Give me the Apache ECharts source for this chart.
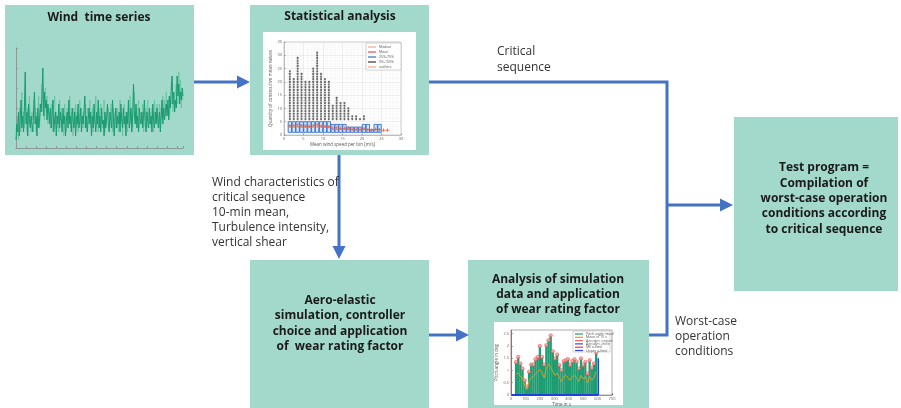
<!DOCTYPE html>
<html><head><meta charset="utf-8">
<script src="https://cdn.jsdelivr.net/npm/echarts@6/dist/echarts.min.js"></script>
<style>html,body{margin:0;padding:0;background:#fff}#c{width:901px;height:408px}</style>
</head><body><div id="c"></div>
<script>
// ---- Wind time series (m/s) ----
const windSeries = [
 2,6,4,9,3,7,12,5,8,4, 10,19,6,9,3,11,7,5,8,6, 4,9,14,6,8,3,10,5,7,11, 9,13,20,8,14,10,12,7,11,9,
 6,10,5,8,12,4,7,9,3,8, 6,11,5,9,7,4,10,6,8,3, 7,9,5,12,6,8,4,10,7,5, 9,3,8,6,11,5,7,10,4,8,
 6,9,13,5,8,4,7,10,6,9, 3,8,5,11,7,4,9,6,12,5, 8,4,10,6,7,3,9,5,8,11, 6,4,9,7,5,12,8,3,7,10,
 5,8,6,9,4,11,7,5,10,6, 8,3,9,6,12,5,7,10,4,8, 16,9,6,11,5,8,4,10,7,6, 9,5,8,12,6,4,9,7,5,10,
 6,8,4,11,7,5,9,6,10,7, 5,9,4,8,12,6,10,7,9,11, 8,12,7,13,10,15,18,11,14,9, 12,10,18,13,16,11,14,12,15,13
];
const windSeriesLight = [
 5,3,8,2,10,6,4,14,7,9, 5,12,8,4,10,6,13,8,4,9, 7,12,6,10,4,9,7,13,5,8, 11,16,9,12,7,15,9,13,6,10,
 8,5,11,7,4,10,13,6,9,5, 8,4,12,7,10,5,8,3,11,7, 4,10,8,6,13,5,9,7,3,10, 6,11,5,9,4,8,12,6,10,5,
 9,5,7,11,4,10,6,8,12,5, 7,10,4,9,6,13,5,8,4,10, 6,11,7,5,9,12,4,8,6,9, 10,7,5,11,8,4,10,6,9,5,
 7,10,4,8,12,6,9,3,8,11, 5,9,7,4,10,8,13,6,9,5, 11,14,8,6,10,7,12,5,9,8, 6,11,4,9,7,10,5,12,8,6,
 9,5,10,7,4,12,8,6,11,5, 8,11,6,10,7,13,9,12,8,14, 10,9,13,8,12,11,16,9,12,10, 14,16,12,11,19,13,17,10,14,12
];
// ---- Statistical analysis (per wind-speed bin) ----
const statBins   = [1.5,2.5,3.5,4.5,5.5,6.5,7.5,8.5,9.5,10.5,11.5,12.5,13.5,14.5,15.5,16.5,17.5,18.5,19.5,20.5,21.5,22.5,23.5,24.5,25.5,26.5];
const statQ1     = [1,1,1,1,1,1,1,1,1,1,1,1,1,1,1,1,1,1,1,1,1,1,1,1,null,null];
const statMedian = [3,3,3,3,3,3,3,3,3,3,3,2,2,2,2,2,2,2,2,2,2,2,2,2,null,null];
const statQ3     = [5,5,5,5,5,5,5,5,5,5,5,4,4,4,4,3,3,3,3,4,4,2,4,4,null,null];
const statMean   = [3.5,3.6,3.8,3.5,3.4,3.3,3.6,3.9,3.4,3.3,3.1,2.6,2.7,2.5,2.5,2.4,2.2,2.2,2.1,2.4,2.0,1.9,2.2,2.0,1.8,1.8];
const statMaxOut = [24,21,29,23,20,20,25,31,23,21,20,11,14,12,12,10,7,7,6,7,0,0,0,0,0,0];
const statOutStart = 6;
// ---- Simulation analysis ----
const simTime = [35,50,65,80,95,110,125,140,155,170,185,200,215,230,245,260,275,290,305,320,335,350,365,380,395,410,425,440,455,470,485,500,515,530,545,560,575,590];
const simPeak = [1.35,1.55,1.28,1.08,0.6,0.34,0.95,1.24,1.24,1.46,1.55,2.0,1.55,1.24,2.03,2.23,2.43,1.78,1.49,1.65,1.22,1.01,1.38,1.42,1.46,1.22,1.38,1.46,1.35,1.08,1.49,1.22,1.35,0.88,1.42,1.1,1.28,1.73];
const simMean = [0.85,0.9,0.75,0.7,0.4,0.22,0.55,0.7,0.75,0.85,0.95,1.05,0.9,0.7,1.1,1.25,1.15,0.95,0.8,0.9,0.7,0.55,0.75,0.8,0.7,0.6,0.75,0.8,0.7,0.55,0.8,0.65,0.75,0.5,0.75,0.6,0.7,0.95];
const simLowerLimit = [[0,0],[605,0]];
const simLeftLimit  = [[3,0],[3,2.65]];
const simRightLimit = [[605,0],[605,1.5]];

const TEAL = '#a3d9ca', BLUE = '#4472c4', FONT = '"Open Sans", "DejaVu Sans", sans-serif';

function box(x,y,w,h){ return {type:'rect', z:-10, shape:{x,y,width:w,height:h}, style:{fill:TEAL}}; }
function white(x,y,w,h){ return {type:'rect', z:-5, shape:{x,y,width:w,height:h}, style:{fill:'#fff'}}; }
function txt(x,y,t,opt){ return {type:'text', z:20, x, y, style:Object.assign({text:t, fill:'#1a1a1a', fontFamily:FONT, fontSize:12, fontWeight:'bold', textAlign:'center', textVerticalAlign:'middle', lineHeight:15.5}, opt||{})}; }
function line(pts){ return {type:'polyline', z:15, shape:{points:pts}, style:{stroke:BLUE, lineWidth:3, fill:null}}; }
function head(pts){ return {type:'polygon', z:15, shape:{points:pts}, style:{fill:BLUE}}; }
function legLine(x,y,color,label){ return [
  {type:'line', z:30, shape:{x1:x, y1:y, x2:x+8, y2:y}, style:{stroke:color, lineWidth:1.2}},
  {type:'text', z:30, x:x+11, y:y, style:{text:label, fill:'#555', fontSize:3.5, fontFamily:FONT, textVerticalAlign:'middle'}}
]; }

const outliers = [];
statBins.forEach((b,i)=>{ for(let v=statOutStart; v<=statMaxOut[i]; v++) outliers.push([b,v]); });

const elements = [
  box(5,5,189,150), box(250,5,179,150), box(250,260,179,150), box(468,260,181,150), box(734,117,164,174),
  white(263,32,153,118), white(494,322,129,83),
  txt(99,18,'Wind  time series'),
  txt(340,17,'Statistical analysis'),
  txt(340,323.5,'Aero-elastic\nsimulation, controller\nchoice and application\nof  wear rating factor'),
  txt(558,295,'Analysis of simulation\ndata and application\nof wear rating factor',{lineHeight:15}),
  txt(824,198.5,'Test program =\nCompilation of\nworst-case operation\nconditions according\nto critical sequence',{lineHeight:15.3}),
  txt(497,60,'Critical\nsequence',{fontWeight:'normal', textAlign:'left', fill:'#333', lineHeight:16}),
  txt(212,213,'Wind characteristics of\ncritical sequence\n10-min mean,\nTurbulence intensity,\nvertical shear',{fontWeight:'normal', textAlign:'left', fill:'#333', lineHeight:15}),
  txt(675,337,'Worst-case\noperation\nconditions',{fontWeight:'normal', textAlign:'left', fill:'#333', lineHeight:15}),
  line([[194,82],[238,82]]), head([[237,75.5],[250,82],[237,88.5]]),
  line([[429,82],[667,82],[667,335],[649,335]]),
  line([[667,205],[721,205]]), head([[720,198.5],[733,205],[720,211.5]]),
  line([[339,155],[339,247]]), head([[332.5,246],[339,259],[345.5,246]]),
  line([[429,335],[457,335]]), head([[456,328.5],[469,335],[456,341.5]]),
  {type:'rect', z:28, shape:{x:366,y:43,width:35,height:27}, style:{fill:'#fff', stroke:'#aaa', lineWidth:0.5}},
  ...legLine(368,47,'#f4a582','Median'),
  ...legLine(368,52,'#e8503a','Mean'),
  ...legLine(368,57,'#2f6fd1','25%-75%'),
  ...legLine(368,62,'#333','0%-100%'),
  ...legLine(368,67,'#f4a582','outliers'),
  {type:'rect', z:28, shape:{x:573,y:331,width:37,height:21}, style:{fill:'#fff', stroke:'#aaa', lineWidth:0.5}},
  ...legLine(575,334,'#1e9c72','Pitch angle (max)'),
  ...legLine(575,337.3,'#e0a020','Mean of 10 s'),
  ...legLine(575,340.6,'#f06060','Aerodyn. impact'),
  ...legLine(575,343.9,'#2f4fd1','Aerodyn. drive'),
  ...legLine(575,347.2,'#ff3030','ME x-limit'),
  ...legLine(575,350.5,'#3040ff','Upper x-limit')
];

const tiny = {fontSize:4, color:'#666', fontFamily:FONT, margin:2};
const option = {
  animation:false,
  backgroundColor:'#fff',
  graphic:{elements},
  grid:[
    {left:16, top:48, width:167, height:100},
    {left:284, top:42, width:117, height:93, show:true, borderColor:'#999', borderWidth:0.5, backgroundColor:'#fff'},
    {left:511, top:330, width:101, height:65, show:true, borderColor:'#555', borderWidth:0.5, backgroundColor:'#fff'}
  ],
  xAxis:[
    {gridIndex:0, type:'value', min:0, max:199, interval:12, axisLine:{lineStyle:{color:'#8a9a95'}}, axisTick:{inside:true, length:2, lineStyle:{color:'#8a9a95'}}, axisLabel:{show:false}, splitLine:{show:false}},
    {gridIndex:1, type:'value', min:0, max:30, interval:5, axisLine:{lineStyle:{color:'#999', width:0.5}}, axisTick:{inside:true, length:1.5}, axisLabel:tiny,
     splitLine:{lineStyle:{color:'#ddd', width:0.5}}, minorSplitLine:{show:true, lineStyle:{color:'#eee', width:0.4}}, minorTick:{show:false, splitNumber:5},
     name:'Mean wind speed per bin [m/s]', nameLocation:'middle', nameGap:7, nameTextStyle:{fontSize:4.5, color:'#555', fontFamily:FONT}},
    {gridIndex:2, type:'value', min:0, max:700, interval:100, axisLine:{lineStyle:{color:'#555', width:0.5}}, axisTick:{inside:true, length:1.5}, axisLabel:tiny, splitLine:{show:false},
     name:'Time in s', nameLocation:'middle', nameGap:7, nameTextStyle:{fontSize:4.5, color:'#555', fontFamily:FONT}}
  ],
  yAxis:[
    {gridIndex:0, type:'value', min:0, max:25, interval:5, axisLine:{show:true, lineStyle:{color:'#8a9a95'}}, axisTick:{show:true, inside:true, length:2, lineStyle:{color:'#8a9a95'}}, axisLabel:{show:false}, splitLine:{show:false}},
    {gridIndex:1, type:'value', min:0, max:35, interval:5, axisLine:{show:true, lineStyle:{color:'#999', width:0.5}}, axisTick:{show:true, inside:true, length:1.5}, axisLabel:tiny,
     splitLine:{lineStyle:{color:'#ddd', width:0.5}}, minorSplitLine:{show:true, lineStyle:{color:'#eee', width:0.4}}, minorTick:{show:false, splitNumber:5},
     name:'Quantity of consecutive mean values', nameLocation:'middle', nameGap:8, nameTextStyle:{fontSize:4.5, color:'#555', fontFamily:FONT}},
    {gridIndex:2, type:'value', min:0, max:2.65, interval:0.5, axisLine:{show:true, lineStyle:{color:'#555', width:0.5}}, axisTick:{show:true, inside:true, length:1.5}, axisLabel:Object.assign({showMaxLabel:false}, tiny), splitLine:{show:false},
     name:'Pitch angle in deg', nameLocation:'middle', nameGap:10, nameTextStyle:{fontSize:4.5, color:'#555', fontFamily:FONT}}
  ],
  series:[
    {type:'line', xAxisIndex:0, yAxisIndex:0, data:windSeriesLight.map((v,i)=>[i,v]), showSymbol:false, lineStyle:{color:'#5cbf98', width:0.8, opacity:0.8}, silent:true},
    {type:'line', xAxisIndex:0, yAxisIndex:0, data:windSeries.map((v,i)=>[i,v]), showSymbol:false, lineStyle:{color:'#1a9a70', width:1}, silent:true},
    {type:'scatter', xAxisIndex:1, yAxisIndex:1, data:outliers, symbol:'roundRect', symbolSize:[1.8,2.2], itemStyle:{color:'#444'}, silent:true},
    {type:'custom', xAxisIndex:1, yAxisIndex:1, silent:true,
     data:statBins.map((b,i)=>[b,statQ1[i],statMedian[i],statQ3[i]]).filter(d=>d[1]!=null),
     renderItem:function(params, api){
       const x=api.value(0), p1=api.coord([x,api.value(1)]), pm=api.coord([x,api.value(2)]), p3=api.coord([x,api.value(3)]);
       const w=api.size([0.85,0])[0];
       return {type:'group', children:[
         {type:'rect', shape:{x:p1[0]-w/2, y:p3[1], width:w, height:p1[1]-p3[1]}, style:{fill:'rgba(47,111,209,0.15)', stroke:'#2f6fd1', lineWidth:0.9}},
         {type:'line', shape:{x1:pm[0]-w/2, y1:pm[1], x2:pm[0]+w/2, y2:pm[1]}, style:{stroke:'#f08050', lineWidth:1}}
       ]};
     }},
    {type:'scatter', xAxisIndex:1, yAxisIndex:1, data:statBins.map((b,i)=>[b,statMean[i]]), symbol:'path://M3,0h2v3h3v2h-3v3h-2v-3h-3v-2h3z', symbolSize:3.5, itemStyle:{color:'#e8503a'}, silent:true},
    {type:'bar', xAxisIndex:2, yAxisIndex:2, data:simTime.map((t,i)=>[t,simPeak[i]]), barWidth:2.3, itemStyle:{color:'#1e9c72'}, silent:true},
    {type:'line', xAxisIndex:2, yAxisIndex:2, data:simTime.map((t,i)=>[t,simMean[i]]), showSymbol:false, lineStyle:{color:'#e0a020', width:0.9}, silent:true},
    {type:'scatter', xAxisIndex:2, yAxisIndex:2, data:simTime.map((t,i)=>[t,simPeak[i]]), symbol:'circle', symbolSize:3.5, itemStyle:{color:'#f7a0a0', borderColor:'#e84040', borderWidth:0.6}, silent:true},
    {type:'line', xAxisIndex:2, yAxisIndex:2, data:simLowerLimit, showSymbol:false, lineStyle:{color:'#2040e0', width:2}, silent:true},
    {type:'line', xAxisIndex:2, yAxisIndex:2, data:simLeftLimit, showSymbol:false, lineStyle:{color:'#ff4040', width:1}, silent:true},
    {type:'line', xAxisIndex:2, yAxisIndex:2, data:simRightLimit, showSymbol:false, lineStyle:{color:'#2040e0', width:1.5}, silent:true}
  ]
};
const chart = echarts.init(document.getElementById('c'), null, {renderer:'canvas'});
chart.setOption(option);
</script>
</body></html>
